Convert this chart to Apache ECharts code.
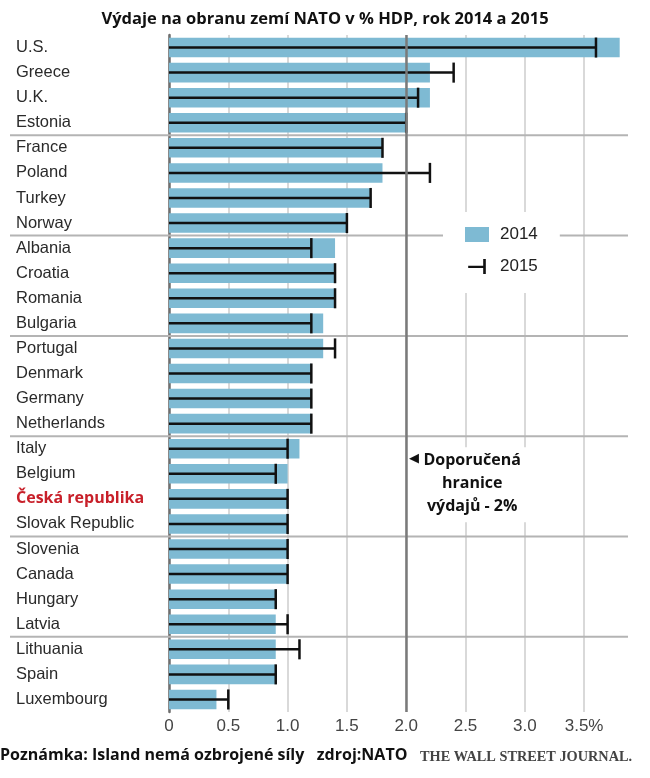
<!DOCTYPE html>
<html>
<head>
<meta charset="utf-8">
<script src="https://cdn.jsdelivr.net/npm/echarts@6/dist/echarts.min.js"></script>
<style>
    html, body { margin: 0; padding: 0; background: #fff; }
    #main { width: 650px; height: 778px; }
</style>
</head>
<body>
<div id="main"></div>
<script>
// data
var countries = ['U.S.', 'Greece', 'U.K.', 'Estonia', 'France', 'Poland', 'Turkey', 'Norway',
    'Albania', 'Croatia', 'Romania', 'Bulgaria', 'Portugal', 'Denmark', 'Germany', 'Netherlands',
    'Italy', 'Belgium', 'Česká republika', 'Slovak Republic', 'Slovenia', 'Canada', 'Hungary', 'Latvia',
    'Lithuania', 'Spain', 'Luxembourg'];
var spend2014 = [3.8, 2.2, 2.2, 2.0, 1.8, 1.8, 1.7, 1.5,
    1.4, 1.4, 1.4, 1.3, 1.3, 1.2, 1.2, 1.2,
    1.1, 1.0, 1.0, 1.0, 1.0, 1.0, 0.9, 0.9,
    0.9, 0.9, 0.4];
var spend2015 = [3.6, 2.4, 2.1, 2.0, 1.8, 2.2, 1.7, 1.5,
    1.2, 1.4, 1.4, 1.2, 1.4, 1.2, 1.2, 1.2,
    1.0, 0.9, 1.0, 1.0, 1.0, 1.0, 0.9, 1.0,
    1.1, 0.9, 0.5];
var tickLabels = ['0', '0.5', '1.0', '1.5', '2.0', '2.5', '3.0', '3.5%'];
var seriesNames = ['2014', '2015'];
var highlight = 'Česká republika';
var groupSize = 4;
var guideline = 2.0;

var labelFont = '"Liberation Sans Narrow", "Liberation Sans", Arial, sans-serif';
var boldFont = '"Open Sans", "Noto Sans", sans-serif';

var chart = echarts.init(document.getElementById('main'));

var option = {
    backgroundColor: '#fff',
    animation: false,
    title: {
        text: 'Výdaje na obranu zemí NATO v % HDP, rok 2014 a 2015',
        left: 'center',
        top: 6,
        textStyle: { fontFamily: boldFont, fontWeight: 'bold', fontSize: 16.5, color: '#111' }
    },
    legend: {
        orient: 'vertical',
        left: 443,
        top: 212,
        padding: [14, 22, 18, 22],
        itemGap: 15,
        itemWidth: 24,
        itemHeight: 15,
        backgroundColor: '#fff',
        textStyle: { fontFamily: labelFont, fontSize: 17, color: '#222', padding: [0, 0, 0, 6] },
        data: [
            { name: seriesNames[0], icon: 'rect' },
            { name: seriesNames[1], icon: 'path://M0,9H22V12H0Z M20,0H23.5V20H20Z' }
        ]
    },
    grid: { left: 169, right: 22, top: 35, bottom: 66 },
    xAxis: {
        type: 'value',
        min: 0,
        max: 3.87,
        interval: 0.5,
        axisLine: { show: false },
        axisTick: { show: false },
        axisLabel: {
            showMaxLabel: false,
            margin: 6,
            fontFamily: labelFont,
            fontSize: 17,
            color: '#444',
            formatter: function (v) {
                var i = Math.round(v / 0.5);
                return tickLabels[i] !== undefined ? tickLabels[i] : '';
            }
        },
        splitLine: {
            showMaxLine: false,
            lineStyle: { color: '#cccccc', width: 1.5 }
        }
    },
    yAxis: {
        type: 'category',
        inverse: true,
        data: countries,
        axisTick: { show: false },
        axisLine: { show: true, lineStyle: { color: '#6e6e6e', width: 2.5 } },
        axisLabel: {
            align: 'left',
            margin: 153,
            fontFamily: labelFont,
            fontSize: 16.5,
            color: '#2a2a2a',
            formatter: function (v) {
                return v === highlight ? '{cz|' + v + '}' : v;
            },
            rich: {
                cz: { fontFamily: boldFont, fontWeight: 'bold', fontSize: 16, color: '#c8202a' }
            }
        }
    },
    series: [
        {
            // 2.0 % guideline under the bars
            type: 'line',
            data: [],
            z: 1,
            silent: true,
            markLine: {
                silent: true,
                symbol: 'none',
                label: { show: false },
                lineStyle: { color: '#7a7a7a', width: 2.5, type: 'solid' },
                data: [{ xAxis: guideline }]
            }
        },
        {
            name: seriesNames[0],
            type: 'bar',
            data: spend2014,
            barWidth: '78%',
            z: 2,
            itemStyle: { color: '#7ebad3' }
        },
        {
            name: seriesNames[1],
            type: 'custom',
            z: 3,
            itemStyle: { color: '#111' },
            encode: { x: 1, y: 0 },
            data: spend2015.map(function (v, i) { return [i, v]; }),
            renderItem: function (params, api) {
                var cat = api.value(0);
                var val = api.value(1);
                var start = api.coord([0, cat]);
                var end = api.coord([val, cat]);
                var h = api.size([0, 1])[1] * 0.8;
                var st = { stroke: '#111', lineWidth: 2.5 };
                return {
                    type: 'group',
                    children: [
                        { type: 'line', shape: { x1: start[0], y1: start[1], x2: end[0], y2: end[1] }, style: st },
                        { type: 'line', shape: { x1: end[0], y1: end[1] - h / 2, x2: end[0], y2: end[1] + h / 2 }, style: st }
                    ]
                };
            }
        }
    ]
};
chart.setOption(option);

// group separators, annotation and footnote placed from the axes
var graphics = [];
var xLeftEdge = 10;
var xRightEdge = chart.convertToPixel({ xAxisIndex: 0 }, 3.87);
for (var i = groupSize; i < countries.length; i += groupSize) {
    var ya = chart.convertToPixel({ yAxisIndex: 0 }, countries[i - 1]);
    var yb = chart.convertToPixel({ yAxisIndex: 0 }, countries[i]);
    var ys = (ya + yb) / 2;
    graphics.push({
        type: 'line', z: 1, silent: true,
        shape: { x1: xLeftEdge, y1: ys, x2: xRightEdge, y2: ys },
        style: { stroke: '#b4b4b4', lineWidth: 2 }
    });
}
var gx = chart.convertToPixel({ xAxisIndex: 0 }, guideline);
var yItaly = chart.convertToPixel({ yAxisIndex: 0 }, 'Italy');
var yBelgium = chart.convertToPixel({ yAxisIndex: 0 }, 'Belgium');
var annTop = (yItaly + yBelgium) / 2 - 14;
graphics.push({
    type: 'text', z: 10, silent: true,
    x: gx + 66, y: annTop,
    style: {
        text: 'Doporučená\nhranice\nvýdajů - 2%',
        fontFamily: boldFont, fontWeight: 'bold', fontSize: 16, lineHeight: 23,
        fill: '#111', align: 'center', verticalAlign: 'top',
        backgroundColor: '#fff', padding: [2, 8, 4, 8]
    }
});
graphics.push({
    type: 'text', z: 11, silent: true,
    x: gx + 3, y: annTop + 5,
    style: { text: '◀', fontSize: 13, fill: '#111', align: 'left', verticalAlign: 'top' }
});
graphics.push({
    type: 'text', silent: true,
    left: 0, top: 747,
    style: {
        text: 'Poznámka: Island nemá ozbrojené síly   zdroj:NATO',
        fontFamily: boldFont, fontWeight: 'bold', fontSize: 16, fill: '#111'
    }
});
graphics.push({
    type: 'text', silent: true,
    left: 420, top: 750,
    style: {
        text: 'THE WALL STREET JOURNAL.',
        fontFamily: '"Liberation Serif", "DejaVu Serif", serif', fontWeight: 'bold', fontSize: 14.3, fill: '#444'
    }
});
chart.setOption({ graphic: graphics });
</script>
</body>
</html>
